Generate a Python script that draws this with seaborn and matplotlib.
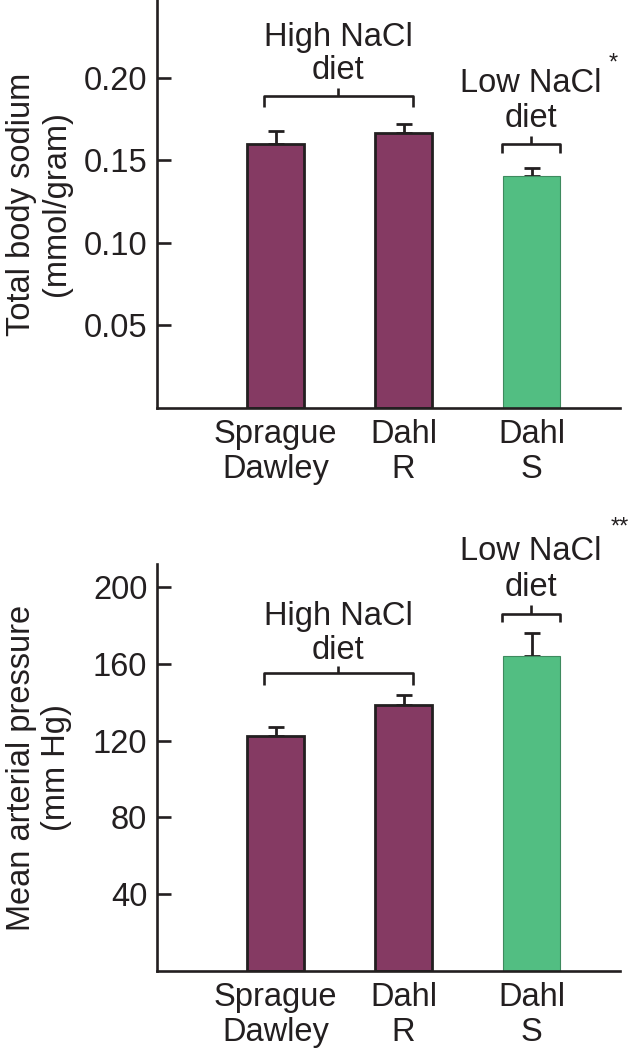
import matplotlib
matplotlib.use("Agg")
import matplotlib.pyplot as plt
import seaborn as sns
import pandas as pd

# ---- data ----
strains = ["Sprague\nDawley", "Dahl\nR", "Dahl\nS"]
sodium = [0.160, 0.1665, 0.1405]
sodium_err = [0.0075, 0.0056, 0.0048]
pressure = [122.2, 138.8, 164.2]
pressure_err = [5.0, 4.8, 11.7]
sodium_ticks = [0.05, 0.10, 0.15, 0.20]
sodium_ticklabels = ["0.05", "0.10", "0.15", "0.20"]
pressure_ticks = [40, 80, 120, 160, 200]
pressure_ticklabels = ["40", "80", "120", "160", "200"]

purple = "#853A63"
green = "#52BE82"
colors = [purple, purple, green]

sns.set_theme(style="ticks")
plt.rcParams["font.family"] = ["Liberation Sans", "DejaVu Sans"]
FS = 23.5
INK = "#231F20"

fig = plt.figure(figsize=(6.31, 10.5), dpi=100)
ax1 = fig.add_axes([157/631, 1 - 408/1050, (620-157)/631, 408/1050])
ax2 = fig.add_axes([157/631, 1 - 971/1050, (620-157)/631, (971-564)/1050])


def draw(ax, vals, errs, ticks, ticklabels, ylim, ylabel):
    df = pd.DataFrame({"strain": strains, "val": vals})
    sns.barplot(data=df, x="strain", y="val", hue="strain", palette=colors,
                saturation=1, width=0.45, legend=False, ax=ax, errorbar=None)
    for i, p in enumerate(ax.patches):
        if i < 2:
            p.set_edgecolor(INK)
            p.set_linewidth(2.0)
        else:
            p.set_edgecolor("#3E8A5E")
            p.set_linewidth(0.8)
        p.set_zorder(2)
    ax.errorbar(range(len(vals)), vals, yerr=[[0]*len(vals), errs],
                fmt="none", ecolor=INK, elinewidth=2.0, capsize=6,
                capthick=2.0, zorder=1)
    ax.set_xlim(-0.926, 2.691)
    ax.set_ylim(*ylim)
    ax.set_yticks(ticks)
    ax.set_yticklabels(ticklabels)
    ax.set_xlabel("")
    ax.set_ylabel(ylabel, fontsize=FS, linespacing=1.15, va="center", color=INK)
    ax.yaxis.set_label_coords(-0.255, 0.5)
    ax.tick_params(axis="y", direction="in", length=10, width=1.9,
                   labelsize=FS, pad=7, color=INK, labelcolor=INK)
    ax.tick_params(axis="x", length=0, labelsize=FS, pad=8, labelcolor=INK)
    for lab in ax.get_xticklabels():
        lab.set_linespacing(1.15)
    sns.despine(ax=ax)
    for s in ["left", "bottom"]:
        ax.spines[s].set_linewidth(1.9)
        ax.spines[s].set_color(INK)


def bracket(ax, x0, x1, y, yend, ytop, label, ylab1, ylab2):
    kw = dict(color=INK, lw=1.9, clip_on=False, solid_capstyle="butt")
    ax.plot([x0, x0, x1, x1], [yend, y, y, yend], **kw)
    xc = (x0 + x1) / 2
    ax.plot([xc, xc], [y, ytop], **kw)
    ax.text(xc, ylab2, "diet", ha="center", va="center", fontsize=FS,
            color=INK, clip_on=False)
    ax.text(xc, ylab1, label, ha="center", va="center", fontsize=FS,
            color=INK, clip_on=False)


draw(ax1, sodium, sodium_err, sodium_ticks, sodium_ticklabels, (0, 0.247),
     "Total body sodium\n(mmol/gram)")
bracket(ax1, -0.09, 1.07, 0.189, 0.1823, 0.194, "High NaCl", 0.2244, 0.2045)
bracket(ax1, 1.77, 2.22, 0.1598, 0.1544, 0.1646, "Low NaCl", 0.1966, 0.1755)
ax1.text(2.64, 0.2087, "*", ha="center", va="center", fontsize=17,
         color=INK, clip_on=False)

draw(ax2, pressure, pressure_err, pressure_ticks, pressure_ticklabels, (0, 212),
     "Mean arterial pressure\n(mm Hg)")
bracket(ax2, -0.09, 1.07, 155.0, 149.1, 159.1, "High NaCl", 184.8, 166.8)
bracket(ax2, 1.77, 2.22, 186.2, 182.0, 190.4, "Low NaCl", 218.4, 199.5)
ax2.text(2.69, 231, "**", ha="center", va="center", fontsize=17,
         color=INK, clip_on=False)

fig.savefig("out.png", dpi=100)
